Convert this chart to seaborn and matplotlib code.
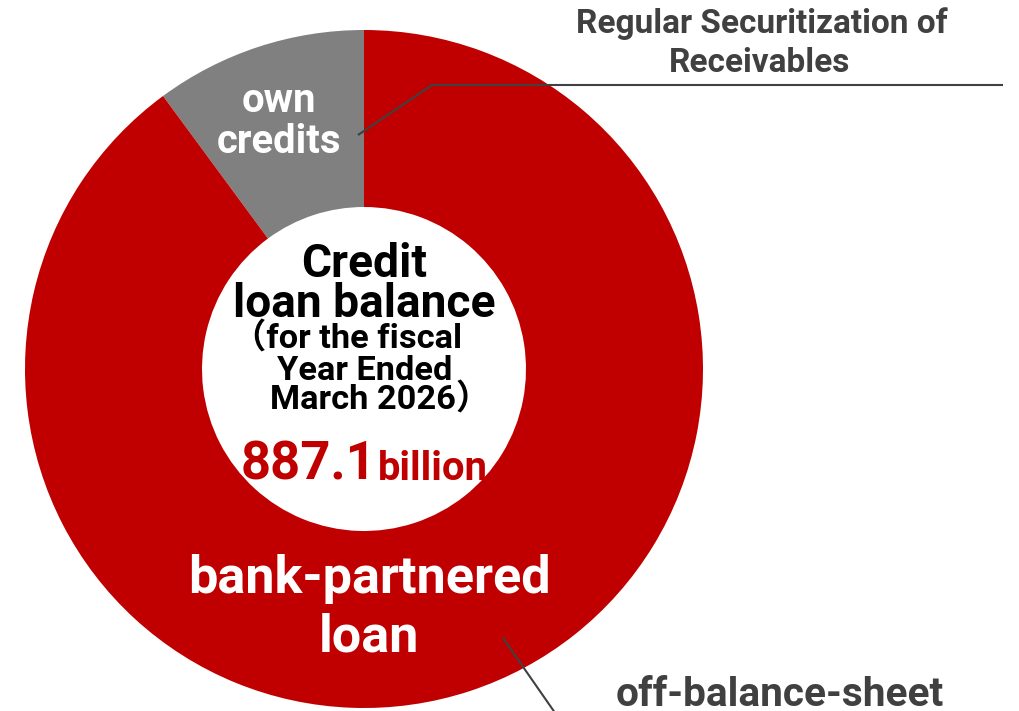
import matplotlib
matplotlib.use("Agg")
import matplotlib.pyplot as plt
import seaborn as sns

# Credit loan balance breakdown (billion yen)
categories = ["own credits", "bank-partnered loan"]
balances = [89.6, 797.5]
colors = ["#808080", "#C00000"]

title_lines = ["Credit", "loan balance"]
period_lines = ["（for the fiscal", "Year Ended", "March 2026）"]
unit_label = "billion"
securitization_label = ["Regular Securitization of", "Receivables"]
offbalance_label = "off-balance-sheet"

sns.set_theme(style="white")
FONT = ["Roboto", "Noto Sans CJK JP", "DejaVu Sans"]
plt.rcParams["font.family"] = FONT

W, H = 1020, 711
fig = plt.figure(figsize=(W / 100, H / 100), dpi=100)
ax = fig.add_axes([0, 0, 1, 1])
renderer = fig.canvas.get_renderer()


def py(y):
    """Convert a top-down pixel row into the axes' bottom-up coordinate."""
    return H - y


def fit_width(t, width_px):
    """Rescale a text so that it spans the given width in pixels."""
    bb = t.get_window_extent(renderer)
    t.set_fontsize(t.get_fontsize() * width_px / bb.width)
    return t.get_fontsize()


cx, cy = 364, py(369)
r_out, r_in = 339, 162

ax.pie(
    balances,
    colors=colors,
    startangle=90,
    counterclock=True,
    radius=r_out,
    center=(cx, cy),
    wedgeprops=dict(width=r_out - r_in, edgecolor="none", linewidth=0),
)
ax.set_xlim(0, W)
ax.set_ylim(0, H)
ax.set_aspect("auto")
ax.axis("off")

bold = dict(fontweight="bold", ha="center", va="baseline")

# centre caption
t = ax.text(cx, py(277), title_lines[0], fontsize=30, color="black", **bold)
t2 = ax.text(cx, py(317), title_lines[1], fontsize=30, color="black", **bold)
fs = fit_width(t2, 262)
t.set_fontsize(fs)

p2 = ax.text(cx + 1, py(380), period_lines[1], fontsize=21, color="black", **bold)
fs = fit_width(p2, 176)
ax.text(462, py(349), period_lines[0], fontsize=fs, color="black",
        fontweight="bold", ha="right", va="baseline")
ax.text(270, py(410), period_lines[2], fontsize=fs, color="black",
        fontweight="bold", ha="left", va="baseline")

total = sum(balances)
num = ax.text(376, py(480), f"{total:.1f}", fontsize=41, color="#C00000",
              fontweight="bold", ha="right", va="baseline")
fit_width(num, 136)
unit = ax.text(378, py(480), unit_label, fontsize=26.5, color="#C00000",
               fontweight="bold", ha="left", va="baseline")
fit_width(unit, 110)

# segment labels
own_words = categories[0].split(" ")
o1 = ax.text(279, py(112), own_words[0], fontsize=26.5, color="white", **bold)
o2 = ax.text(279, py(153), own_words[1], fontsize=26.5, color="white", **bold)
o1.set_fontsize(fit_width(o2, 124))

bank_words = categories[1].split(" ")
b1 = ax.text(369, py(593), bank_words[0], fontsize=37, color="white", **bold)
b2 = ax.text(369, py(652), bank_words[1], fontsize=37, color="white", **bold)
b2.set_fontsize(fit_width(b1, 362))

# callouts
line_color = "#404040"
ax.plot([1003, 432, 358], [py(85), py(85), py(135)], color=line_color, lw=1.5,
        solid_capstyle="butt")
s1 = ax.text(762, py(33), securitization_label[0], fontsize=19, color=line_color, **bold)
s2 = ax.text(760, py(72), securitization_label[1], fontsize=19, color=line_color, **bold)
s2.set_fontsize(fit_width(s1, 372))

ax.plot([503, 560], [py(638), py(720)], color=line_color, lw=1.5, clip_on=True)
ob = ax.text(780, py(706), offbalance_label, fontsize=30, color=line_color, **bold)
fit_width(ob, 328)

fig.savefig("out.png", dpi=100, facecolor="white")
